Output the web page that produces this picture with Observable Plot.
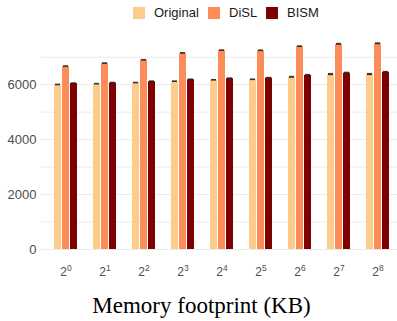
<!DOCTYPE html>
<html>
<head>
<meta charset="utf-8">
<script src="https://cdn.jsdelivr.net/npm/d3@7"></script>
<script src="https://cdn.jsdelivr.net/npm/@observablehq/plot@0.6"></script>
<style>
  html, body { margin: 0; padding: 0; background: #fff; }
  #wrap { width: 397px; height: 321px; position: relative; font-family: "Liberation Sans", Arial, sans-serif; }
  #legend { position: relative; width: 397px; height: 26px; }
  .key { position: absolute; top: 7px; width: 12px; height: 12px; }
  .lab { position: absolute; top: 4px; font-size: 13px; line-height: 18px; color: #1a1a1a; }
  #chart svg { display: block; overflow: visible; }
</style>
</head>
<body>
<div id="wrap">
  <div id="legend"></div>
  <div id="chart"></div>
</div>
<script>
// ---- data ----
const exponents = [0, 1, 2, 3, 4, 5, 6, 7, 8];
const seriesNames = ["Original", "DiSL", "BISM"];
const seriesColors = ["#fdcc8a", "#fc8d59", "#7f0000"];
const original = [5990, 6020, 6060, 6110, 6160, 6180, 6270, 6370, 6370];
const disl     = [6660, 6770, 6890, 7140, 7240, 7235, 7385, 7470, 7490];
const bism     = [6040, 6060, 6110, 6180, 6220, 6240, 6340, 6420, 6450];
const errOriginal = [30, 30, 30, 30, 30, 30, 35, 40, 40];
const errDisl     = [30, 30, 30, 30, 30, 30, 30, 35, 35];
const errBism     = [30, 30, 30, 30, 30, 30, 35, 35, 35];
const yTicks = [0, 2000, 4000, 6000];
const yGrid = [0, 1000, 2000, 3000, 4000, 5000, 6000, 7000];
const xTitle = "Memory footprint (KB)";

const values = [original, disl, bism];
const errors = [errOriginal, errDisl, errBism];
const rows = seriesNames.map((s, k) => exponents.map((g, i) => ({group: g, series: s, value: values[k][i], err: errors[k][i]})));

// ---- legend ----
const legend = document.getElementById("legend");
const keyLeft = [133, 208, 266], labLeft = [154, 229, 287];
seriesNames.forEach((s, k) => {
  const sq = document.createElement("div");
  sq.className = "key"; sq.style.left = keyLeft[k] + "px"; sq.style.background = seriesColors[k];
  const t = document.createElement("div");
  t.className = "lab"; t.style.left = labLeft[k] + "px"; t.textContent = s;
  legend.append(sq, t);
});

// ---- layout ----
const W = 397, H = 295, ML = 41, MR = 0, MT = 17, MB = 72;
const xOpts = {type: "band", domain: exponents, paddingInner: 0.414, paddingOuter: 0.242, align: 0.632};
const bw = Plot.scale({x: {...xOpts, range: [ML, W - MR]}}).bandwidth;
const barW = 7, gap = 1;

const marks = [Plot.ruleY(yGrid, {stroke: "#ebebeb", strokeWidth: 1})];
rows.forEach((data, k) => {
  const l = k * (barW + gap), r = bw - l - barW;
  marks.push(Plot.barY(data, {x: "group", y: "value", fill: seriesColors[k], insetLeft: l, insetRight: r}));
  marks.push(Plot.barY(data, {x: "group", y1: d => d.value - d.err, y2: d => d.value + d.err, fill: "#222", fillOpacity: 0.9, insetLeft: l + 1, insetRight: r + 1}));
});
marks.push(Plot.axisY({ticks: yTicks, tickSize: 0, tickPadding: 5, fontSize: 13, label: null, tickFormat: d => String(d)}));
marks.push(Plot.axisX({tickSize: 0, tickPadding: 18, fontSize: 12, label: null, tickFormat: d => "2"}));
marks.push(Plot.text([xTitle], {text: d => d, frameAnchor: "bottom", dx: -18, dy: 63, fontSize: 23, fontFamily: "'Liberation Serif', 'Times New Roman', serif", fill: "#000"}));

const chart = Plot.plot({
  width: W, height: H,
  marginLeft: ML, marginRight: MR, marginTop: MT, marginBottom: MB,
  style: {fontFamily: "'Liberation Sans', Arial, sans-serif", color: "#4d4d4d", background: "transparent"},
  x: {...xOpts, axis: null, label: null},
  y: {domain: [0, 7500], axis: null, label: null},
  marks
});
document.getElementById("chart").append(chart);

// superscript exponents on x tick labels
const xLabels = chart.querySelectorAll('g[aria-label="x-axis tick label"] text');
xLabels.forEach((t, i) => {
  t.textContent = "";
  const base = document.createElementNS("http://www.w3.org/2000/svg", "tspan");
  base.textContent = "2";
  const sup = document.createElementNS("http://www.w3.org/2000/svg", "tspan");
  sup.textContent = String(exponents[i]);
  sup.setAttribute("font-size", "8.5");
  sup.setAttribute("dy", "-5");
  t.append(base, sup);
});
</script>
</body>
</html>
